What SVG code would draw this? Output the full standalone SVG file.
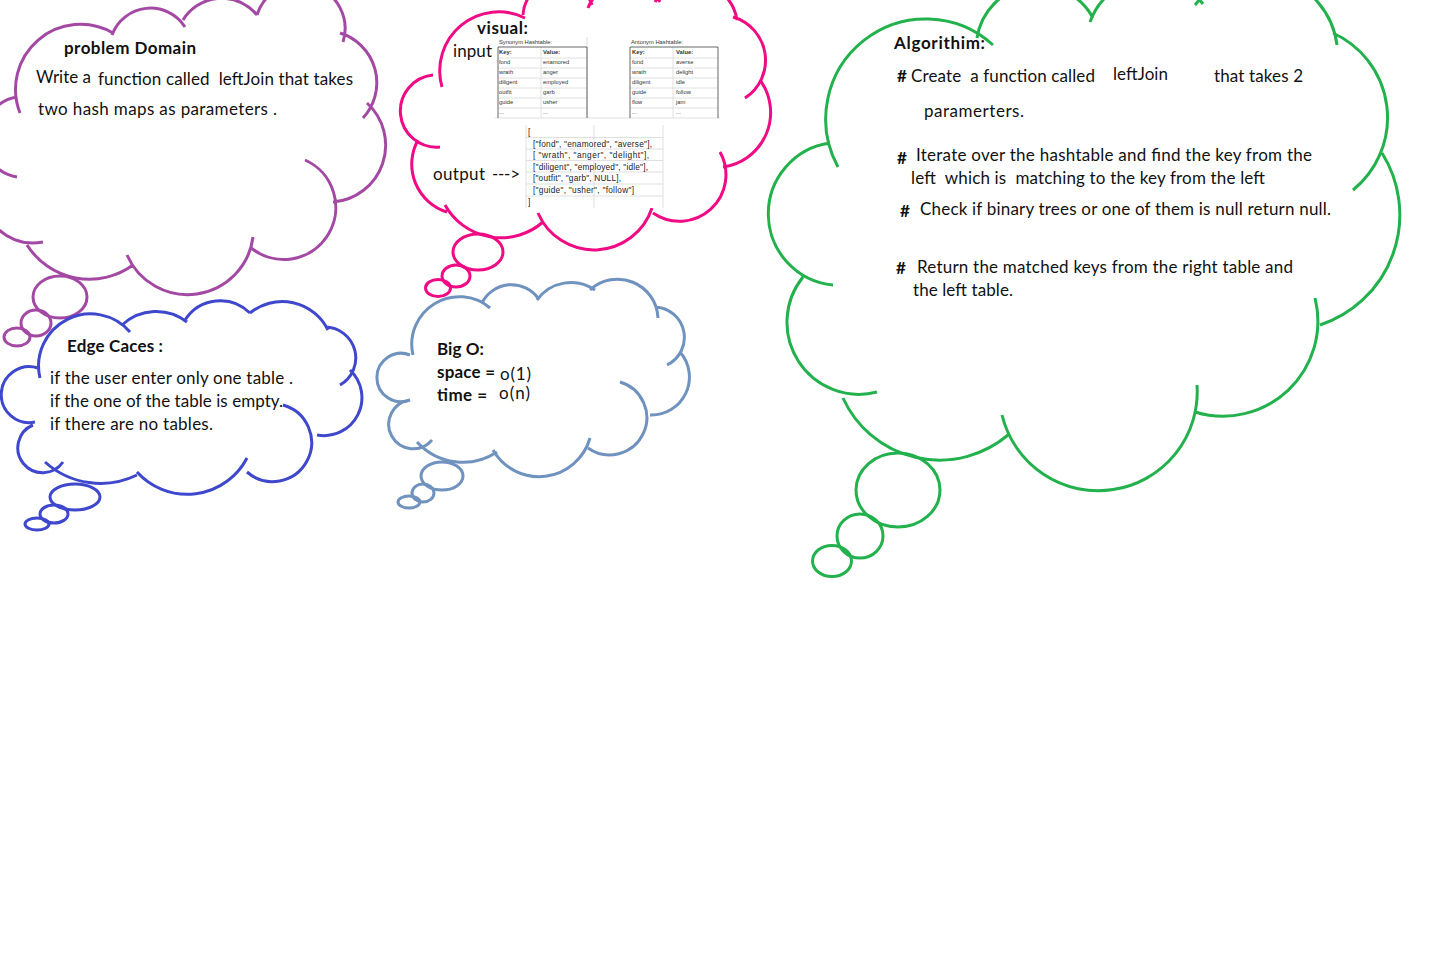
<svg xmlns="http://www.w3.org/2000/svg" width="1443" height="964" viewBox="0 0 1443 964">
<style>
.o{fill:none;stroke-width:3;stroke-linecap:butt}
.g{stroke:#22b14c}.p{stroke:#a349a4}.k{stroke:#f00a84}.b{stroke:#3f48cc}.s{stroke:#7092be}
.t{font-family:Lato,"Open Sans","Liberation Sans",sans-serif;font-size:17px;fill:#111;white-space:pre}
.h{font-weight:bold}
.tb{font-family:"Liberation Sans",Arial,sans-serif;font-size:5.8px;fill:#333}
.ot{font-family:"Liberation Sans",Arial,sans-serif;font-size:8.3px;fill:#222;white-space:pre}
.gl{stroke:#d8d8d8;stroke-width:0.8}
.dl{stroke:#555;stroke-width:0.9}
</style>
<rect width="1443" height="964" fill="#fff"/>

<g id="problem-domain">
<path class="o p" d="M17,177 A40.5,40.5 0 0 1 17,97 M20,113 A65,65 0 0 1 113,33 M112,35 A41,41 0 0 1 185,27 M183,20 A45.5,45.5 0 0 1 257,15 M257,15 A45,45 0 0 1 343,42 M340,33 A52,52 0 0 1 363,118 M367,103 A57,57 0 0 1 333,202 M305,160 A52,52 0 1 1 250,247 M253,237 A66,66 0 0 1 127,255 M133,265 A74,74 0 0 1 27,245 M43,242 A50,50 0 0 1 -8,222"/>
<ellipse class="o p" cx="60" cy="297" rx="27" ry="21"/>
<ellipse class="o p" cx="36" cy="323" rx="15" ry="13"/>
<ellipse class="o p" cx="17" cy="337" rx="13" ry="9"/>
<text class="t h" x="64" y="54" font-size="16" textLength="132">problem Domain</text>
<text class="t" x="36" y="83" textLength="55">Write a</text>
<text class="t" x="98" y="85" textLength="255">function called  leftJoin that takes</text>
<text class="t" x="38" y="115" textLength="239">two hash maps as parameters .</text>
</g>

<g id="visual">
<path class="o k" d="M440,147 A36,36 0 0 1 433,75 M442,87 A59,59 0 0 1 525,18 M523,15 A35.5,35.5 0 0 1 592,5 M588,8 A40,40 0 0 1 660,2 M655,2 A45,45 0 0 1 737,20 M733,17 A45,45 0 0 1 745,98 M760,80 A55,55 0 0 1 723,167 M720,152 A46.5,46.5 0 0 1 653,213 M652,208 A61,61 0 0 1 538,213 M543,222 A64,64 0 0 1 445,205 M447,212 A50,50 0 0 1 418,140"/>
<ellipse class="o k" cx="478" cy="252" rx="25" ry="18"/>
<ellipse class="o k" cx="456" cy="276" rx="14" ry="11"/>
<ellipse class="o k" cx="438" cy="288" rx="12.5" ry="8.5"/>
<text class="t h" x="477" y="34" font-size="16" textLength="51">visual:</text>
<text class="t" x="453" y="57" textLength="39">input</text>
<text class="t" x="433" y="180" textLength="52">output</text>
<text class="t" x="492" y="180" textLength="28">---&gt;</text>
<g id="input-tables">
<rect x="495" y="37" width="225" height="81" fill="#fff"/>
<g class="gl">
<path d="M498,58H587M498,68H587M498,78H587M498,88H587M498,98H587M498,108H587M541,47V118M587,37V118M630,58H718M630,68H718M630,78H718M630,88H718M630,98H718M630,108H718M673,47V118M495,118H720"/>
</g>
<path class="dl" d="M498,47H587M498,47V118M587,47V118M630,47H718M630,47V118M718,47V118"/>
<text class="tb" x="499" y="44" textLength="53">Synonym Hashtable:</text>
<text class="tb h" x="499" y="54">Key:</text><text class="tb h" x="543" y="54">Value:</text>
<text class="tb" x="499" y="64">fond</text><text class="tb" x="543" y="64">enamored</text>
<text class="tb" x="499" y="74">wrath</text><text class="tb" x="543" y="74">anger</text>
<text class="tb" x="499" y="84">diligent</text><text class="tb" x="543" y="84">employed</text>
<text class="tb" x="499" y="94">outfit</text><text class="tb" x="543" y="94">garb</text>
<text class="tb" x="499" y="104">guide</text><text class="tb" x="543" y="104">usher</text>
<text class="tb" x="499" y="114" fill="#aaa">...</text><text class="tb" x="543" y="114" fill="#aaa">...</text>
<text class="tb" x="631" y="44" textLength="52">Antonym Hashtable:</text>
<text class="tb h" x="632" y="54">Key:</text><text class="tb h" x="676" y="54">Value:</text>
<text class="tb" x="632" y="64">fond</text><text class="tb" x="676" y="64">averse</text>
<text class="tb" x="632" y="74">wrath</text><text class="tb" x="676" y="74">delight</text>
<text class="tb" x="632" y="84">diligent</text><text class="tb" x="676" y="84">idle</text>
<text class="tb" x="632" y="94">guide</text><text class="tb" x="676" y="94">follow</text>
<text class="tb" x="632" y="104">flow</text><text class="tb" x="676" y="104">jam</text>
<text class="tb" x="632" y="114" fill="#aaa">...</text><text class="tb" x="676" y="114" fill="#aaa">...</text>
</g>
<g id="output-table">
<rect x="523" y="125" width="140" height="83" fill="#fff"/>
<path class="gl" d="M526,137.5H663M526,149H663M526,160.5H663M526,172H663M526,184H663M526,196H663M526,125V208M594,125V208M663,125V208"/>
<text class="ot" x="528" y="135">[</text>
<text class="ot" x="533" y="147" textLength="119">["fond", "enamored", "averse"],</text>
<text class="ot" x="533" y="158" textLength="116">[ "wrath", "anger", "delight"],</text>
<text class="ot" x="533" y="170" textLength="115">["diligent", "employed", "idle"],</text>
<text class="ot" x="533" y="181" textLength="88">["outfit", "garb", NULL],</text>
<text class="ot" x="533" y="193" textLength="101">["guide", "usher", "follow"]</text>
<text class="ot" x="528" y="205">]</text>
</g>
</g>

<g id="edge-cases">
<path class="o b" d="M35,422 A28,28 0 1 1 38,368 M40,378 A52,52 0 0 1 130,332 M122,325 A50,50 0 0 1 187,322 M185,320 A42,42 0 0 1 250,313 M250,313 A51,51 0 0 1 328,330 M325,327 A31,31 0 0 1 340,385 M350,370 A38,38 0 0 1 317,435 M283,405 A39,39 0 1 1 247,472 M247,458 A67.5,67.5 0 0 1 137,472 M137,475 A83,83 0 0 1 45,462 M63,462 A24.8,24.8 0 1 1 33,425"/>
<ellipse class="o b" cx="75" cy="497" rx="25" ry="13"/>
<ellipse class="o b" cx="54" cy="514" rx="14" ry="9"/>
<ellipse class="o b" cx="37" cy="524" rx="12" ry="6"/>
<text class="t h" x="67" y="352" font-size="16" textLength="96">Edge Caces :</text>
<text class="t" x="50" y="384" textLength="243">if the user enter only one table .</text>
<text class="t" x="50" y="407" textLength="233">if the one of the table is empty.</text>
<text class="t" x="50" y="430" textLength="163">if there are no tables.</text>
</g>

<g id="big-o">
<path class="o s" d="M410,400 A24.2,24.2 0 1 1 410,355 M413,355 A47.5,47.5 0 0 1 490,308 M482,303 A33,33 0 0 1 538,298 M537,300 A42,42 0 0 1 595,290 M590,290 A40.5,40.5 0 0 1 658,318 M655,307 A30.5,30.5 0 0 1 667,365 M680,352 A38,38 0 0 1 650,415 M620,382 A37.2,37.2 0 1 1 588,448 M590,438 A53,53 0 0 1 493,450 M497,452 A62,62 0 0 1 417,442 M432,440 A24.5,24.5 0 1 1 410,400"/>
<ellipse class="o s" cx="442" cy="476" rx="21" ry="14"/>
<ellipse class="o s" cx="423" cy="493" rx="11" ry="9"/>
<ellipse class="o s" cx="409" cy="502" rx="11" ry="6"/>
<text class="t h" x="437" y="355" font-size="16" textLength="47">Big O:</text>
<text class="t h" x="437" y="378" font-size="16" textLength="58">space =</text>
<text class="t" x="500" y="380" textLength="31">o(1)</text>
<text class="t h" x="437" y="401" font-size="16" textLength="50">time =</text>
<text class="t" x="499" y="399" textLength="31">o(n)</text>
</g>

<g id="algorithm">
<path class="o g" d="M833,285 A71.5,71.5 0 0 1 830,143 M838,167 A100,100 0 0 1 993,45 M977,38 A62,62 0 0 1 1093,18 M1090,22 A65,65 0 0 1 1203,4 M1195,5 A80,80 0 0 1 1337,45 M1333,33 A93,93 0 0 1 1353,190 M1382,153 A116,116 0 0 1 1320,325 M1315,298 A95,95 0 0 1 1195,412 M1197,385 A99,99 0 0 1 1002,415 M1008,435 A106,106 0 0 1 843,398 M877,392 A72,72 0 0 1 803,277"/>
<ellipse class="o g" cx="898" cy="490" rx="42" ry="37"/>
<ellipse class="o g" cx="860" cy="536" rx="23" ry="22"/>
<ellipse class="o g" cx="832" cy="561" rx="19.5" ry="15.5"/>
<text class="t h" x="894" y="49" font-size="16" textLength="91">Algorithim:</text>
<text class="t h" x="897" y="82" font-size="15">#</text>
<text class="t" x="911" y="82" textLength="184">Create  a function called</text>
<text class="t" x="1113" y="80" textLength="55">leftJoin</text>
<text class="t" x="1214" y="82" textLength="89">that takes 2</text>
<text class="t" x="924" y="117" textLength="100">paramerters.</text>
<text class="t h" x="897" y="164" font-size="13">#</text>
<text class="t" x="916" y="161" textLength="396">Iterate over the hashtable and find the key from the</text>
<text class="t" x="911" y="184" textLength="354">left  which is  matching to the key from the left</text>
<text class="t h" x="900" y="217" font-size="13">#</text>
<text class="t" x="920" y="215" textLength="411">Check if binary trees or one of them is null return null.</text>
<text class="t h" x="896" y="274" font-size="13">#</text>
<text class="t" x="917" y="273" textLength="376">Return the matched keys from the right table and</text>
<text class="t" x="913" y="296" textLength="100">the left table.</text>
</g>

<g id="connectors"/>
</svg>
